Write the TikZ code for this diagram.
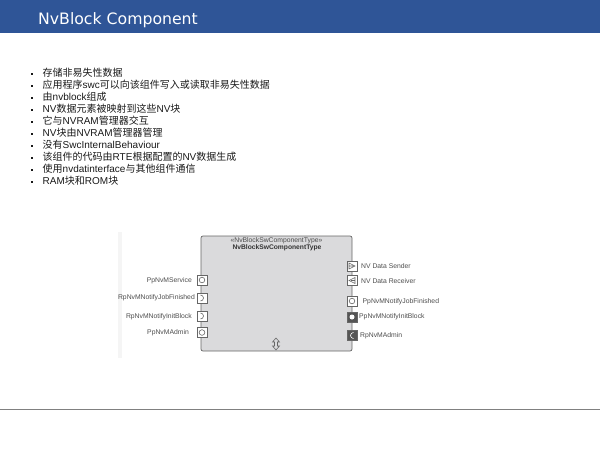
\documentclass[tikz,border=0pt]{standalone}
\usepackage{fontspec}
\setmainfont{Liberation Sans}
\newfontfamily\titlefont{DejaVu Sans}
\newfontfamily\cjk{Noto Sans CJK SC}
\definecolor{headerblue}{HTML}{2F5597}
\definecolor{boxgray}{HTML}{DADADC}
\definecolor{portgray}{HTML}{555555}
\newcommand{\zh}[1]{{\cjk #1}}
\tikzstyle{bulletline} = [anchor=west, inner sep=0pt, font=\fontsize{10}{11}\selectfont, text=black!90]
\tikzstyle{portlabel} = [inner sep=0pt, font=\fontsize{6.8}{7}\selectfont, text=black!70]
\tikzstyle{port} = [rectangle, draw=black!60, fill=white, minimum size=10pt, inner sep=0pt, line width=0.6pt]
\tikzstyle{portdark} = [port, fill=portgray]
\newcommand{\itemMark}{\makebox[11.5pt][l]{\rule[1.5pt]{2.2pt}{2.2pt}}}
\newcommand{\glyphCircle}[1]{\tikz \draw[#1, line width=0.6pt] (0,0) circle (2.8pt);}
\newcommand{\glyphArc}[1]{\tikz \draw[#1, line width=0.6pt] (0pt,3pt) arc (90:-90:3pt);}
\newcommand{\glyphArcLeft}[1]{\tikz \draw[#1, line width=0.6pt] (0pt,3pt) arc (90:270:3pt);}
\newcommand{\glyphSend}{\tikz \draw[black!60, line width=0.6pt] (0,0) -- (0,6pt) -- (6pt,3pt) -- cycle (0,3pt) -- (4pt,3pt);}
\newcommand{\glyphRecv}{\tikz \draw[black!60, line width=0.6pt] (6pt,0) -- (6pt,6pt) -- (0,3pt) -- cycle (6pt,3pt) -- (2pt,3pt);}
\newcommand{\glyphDot}{\tikz \fill[white] (0,0) circle (2.5pt);}
\newcommand{\glyphResize}{\tikz \draw[black!60, line width=0.6pt] (0pt,0pt) -- (3.5pt,4pt) -- (1.5pt,4pt) -- (1.5pt,8pt) -- (3.5pt,8pt) -- (0pt,12pt) -- (-3.5pt,8pt) -- (-1.5pt,8pt) -- (-1.5pt,4pt) -- (-3.5pt,4pt) -- cycle;}
\begin{document}
\begin{tikzpicture}[x=1pt,y=-1pt]
	\useasboundingbox (0,0) rectangle (600,450);
	\fill[headerblue] (0,0) rectangle (600,33);
	\node (title) at (38,20.5)[anchor=west, inner sep=0pt, text=white, font=\titlefont\fontsize{15.7}{17}\selectfont] {NvBlock Component};
	\node (line1) at (31,72.5)[bulletline] {\itemMark\zh{存储非易失性数据}};
	\node (line2) at (31,84.5)[bulletline] {\itemMark\zh{应用程序}swc\zh{可以向该组件写入或读取非易失性数据}};
	\node (line3) at (31,96.5)[bulletline] {\itemMark\zh{由}nvblock\zh{组成}};
	\node (line4) at (31,108.5)[bulletline] {\itemMark NV\zh{数据元素被映射到这些}NV\zh{块}};
	\node (line5) at (31,120.5)[bulletline] {\itemMark\zh{它与}NVRAM\zh{管理器交互}};
	\node (line6) at (31,132.5)[bulletline] {\itemMark NV\zh{块由}NVRAM\zh{管理器管理}};
	\node (line7) at (31,144.5)[bulletline] {\itemMark\zh{没有}SwcInternalBehaviour};
	\node (line8) at (31,156.5)[bulletline] {\itemMark\zh{该组件的代码由}RTE\zh{根据配置的}NV\zh{数据生成}};
	\node (line9) at (31,168.5)[bulletline] {\itemMark\zh{使用}nvdatinterface\zh{与其他组件通信}};
	\node (line10) at (31,180.5)[bulletline] {\itemMark RAM\zh{块和}ROM\zh{块}};
	\fill[black!4] (118,232) rectangle (122,358);
	\node (swc) at (276.5,293.5)[rectangle, rounded corners=2pt, draw=black!60, fill=boxgray, line width=0.7pt, minimum width=151pt, minimum height=115pt] {};
	\node (stereo) at (276.5,241)[inner sep=0pt, text=black!70, font=\fontsize{6.8}{5}\selectfont] {«NvBlockSwComponentType»};
	\node (swcname) at (277,247.5)[inner sep=0pt, text=black!80, font=\bfseries\fontsize{6.7}{5}\selectfont] {NvBlockSwComponentType};
	\node (resize) at (276,344)[inner sep=0pt] {\glyphResize};
	\node (pservice) at (202,280)[port] {\glyphCircle{black!60}};
	\node (rjob) at (202,298)[port] {\glyphArc{black!60}};
	\node (rinit) at (202,316)[port] {\glyphArc{black!60}};
	\node (padmin) at (202,332.5)[port] {\glyphCircle{black!60}};
	\node (sender) at (352,266)[port] {\glyphSend};
	\node (receiver) at (352,280.5)[port] {\glyphRecv};
	\node (pjob) at (352,301)[port] {\glyphCircle{black!60}};
	\node (pinit) at (352,317)[portdark] {\glyphDot};
	\node (radmin) at (352,335.5)[portdark] {\glyphArcLeft{white}};
	\node at (192,280.5)[portlabel, anchor=east] (pservicetext) {PpNvMService};
	\node at (195,298)[portlabel, anchor=east] (rjobtext) {RpNvMNotifyJobFinished};
	\node at (192,316.5)[portlabel, anchor=east] (rinittext) {RpNvMNotifyInitBlock};
	\node at (189,332.5)[portlabel, anchor=east] (padmintext) {PpNvMAdmin};
	\node at (361,266)[portlabel, anchor=west] (sendertext) {NV Data Sender};
	\node at (361,281.5)[portlabel, anchor=west] (receivertext) {NV Data Receiver};
	\node at (362.5,302)[portlabel, anchor=west] (pjobtext) {PpNvMNotifyJobFinished};
	\node at (359,317)[portlabel, anchor=west] (pinittext) {PpNvMNotifyInitBlock};
	\node at (360,336)[portlabel, anchor=west] (radmintext) {RpNvMAdmin};
	\coordinate (footleft) at (0,409);
	\coordinate (footright) at (600,409);
	\draw[black!50, line width=0.8pt] (footleft) -- (footright);
\end{tikzpicture}
\end{document}
